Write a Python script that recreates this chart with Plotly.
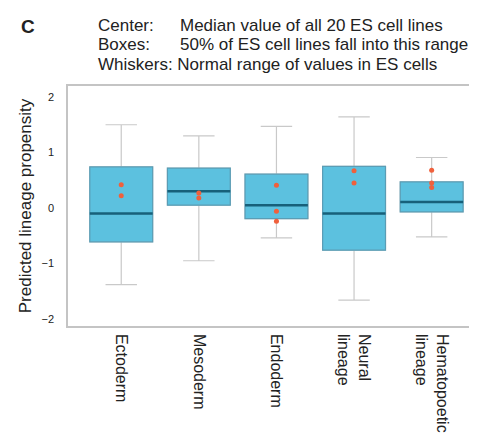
import plotly.graph_objects as go

categories = ["Ectoderm", "Mesoderm", "Endoderm", "Neural<br>lineage", "Hematopoetic<br>lineage"]
q1 = [-0.61, 0.05, -0.19, -0.76, -0.07]
median = [-0.10, 0.30, 0.05, -0.10, 0.11]
q3 = [0.74, 0.72, 0.61, 0.75, 0.47]
lower_whisker = [-1.38, -0.95, -0.54, -1.66, -0.52]
upper_whisker = [1.50, 1.30, 1.47, 1.64, 0.91]
# Individual cell-line points (red dots)
point_cat = [0, 0, 1, 1, 2, 2, 2, 3, 3, 4, 4, 4]
point_val = [0.42, 0.22, 0.27, 0.18, 0.41, -0.06, -0.24, 0.67, 0.45, 0.68, 0.45, 0.37]

pos = list(range(len(categories)))
box_w = 0.81

fig = go.Figure()
# whiskers (light grey)
fig.add_trace(go.Box(
    x=pos, q1=q1, median=median, q3=q3,
    lowerfence=lower_whisker, upperfence=upper_whisker,
    width=box_w, whiskerwidth=0.5,
    fillcolor="#5cc1df", line=dict(color="#c9c9c9", width=1.2),
    boxpoints=False, hoverinfo="skip", showlegend=False,
))
# box body with darker outline
fig.add_trace(go.Box(
    x=pos, q1=q1, median=median, q3=q3,
    lowerfence=q1, upperfence=q3,
    width=box_w, whiskerwidth=0,
    fillcolor="#5cc1df", line=dict(color="#5a9db5", width=1.2),
    boxpoints=False, hoverinfo="skip", showlegend=False,
))
# median lines
mx, my = [], []
for i, m in zip(pos, median):
    mx += [i - box_w / 2, i + box_w / 2, None]
    my += [m, m, None]
fig.add_trace(go.Scatter(x=mx, y=my, mode="lines",
                         line=dict(color="#17607a", width=2.5),
                         hoverinfo="skip", showlegend=False))
# points
fig.add_trace(go.Scatter(x=point_cat, y=point_val, mode="markers",
                         marker=dict(color="#f0603c", size=5),
                         showlegend=False))

font_family = "Liberation Sans, Arial, sans-serif"
hdr = dict(xref="paper", yref="paper", showarrow=False, xanchor="left", yanchor="middle",
           font=dict(family=font_family, size=17, color="#222222"))
L, W, B, H = 60, 413, 318, 240
def px(x): return (x - L) / W
def py(y): return (B - y) / H

annotations = [
    dict(text="<b>C</b>", x=px(11), y=py(18), **{**hdr, "font": dict(family=font_family, size=19, color="#222222")}),
    dict(text="Center:", x=px(88), y=py(17), **hdr),
    dict(text="Median value of all 20 ES cell lines", x=px(171), y=py(17), **hdr),
    dict(text="Boxes:", x=px(88), y=py(37), **hdr),
    dict(text="50% of ES cell lines fall into this range", x=px(171), y=py(37), **hdr),
    dict(text="Whiskers: Normal range of values in ES cells", x=px(88), y=py(56), **hdr),
]

fig.update_layout(
    width=477, height=445,
    margin=dict(l=60, r=4, t=78, b=127),
    plot_bgcolor="white", paper_bgcolor="white",
    boxmode="overlay",
    annotations=annotations,
    font=dict(family=font_family, color="#222222"),
    xaxis=dict(
        range=[-0.686, 4.61], tickmode="array", tickvals=pos, ticktext=categories,
        tickangle=90, tickfont=dict(size=16, color="#222222"),
        showgrid=False, zeroline=False, showline=True, mirror=True,
        linecolor="#c4c4c4", linewidth=1.5, ticks="", ticklabelstandoff=3,
    ),
    yaxis=dict(
        range=[-2.126, 2.198], tickvals=[-2, -1, 0, 1, 2],
        tickfont=dict(size=11, color="#222222"),
        showgrid=False, zeroline=False, showline=True, mirror=True,
        linecolor="#c4c4c4", linewidth=1.5, ticks="", ticklabelstandoff=10,
        title=dict(text="Predicted lineage propensity", font=dict(size=17, color="#222222"), standoff=6),
    ),
)

fig.write_html("out.html")
